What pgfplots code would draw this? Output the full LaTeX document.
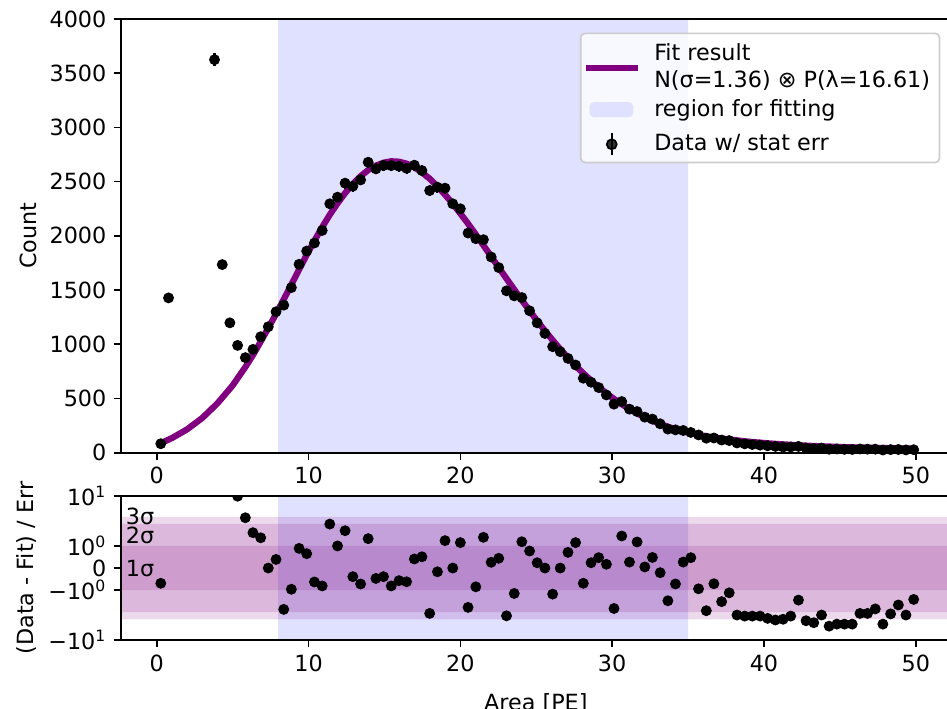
\documentclass[border=0pt]{standalone}
\usepackage{fontspec}
\setmainfont{DejaVu Sans}
\usepackage{pgfplots}
\usepackage{pgfplotstable}
\pgfplotsset{compat=1.18}

\definecolor{fitpurple}{RGB}{128,0,128}
\definecolor{regionblue}{RGB}{224,224,255}

% measured counts per bin
\pgfplotstableread{
x y
0.27 83
0.78 1428
3.81 3625
4.32 1735
4.82 1198
5.33 990
5.84 877
6.34 953
6.85 1070
7.35 1162
7.86 1300
8.37 1361
8.87 1523
9.38 1738
9.88 1860
10.39 1934
10.90 2050
11.40 2296
11.91 2357
12.41 2486
12.92 2458
13.43 2516
13.93 2679
14.44 2618
14.94 2648
15.45 2648
15.96 2642
16.46 2623
16.97 2652
17.47 2602
17.98 2418
18.49 2449
18.99 2440
19.50 2296
20.00 2250
20.51 2026
21.02 1974
21.52 1965
22.03 1805
22.53 1707
23.04 1493
23.55 1447
24.05 1431
24.56 1309
25.06 1198
25.57 1100
26.08 978
26.58 932
27.09 870
27.59 809
28.10 687
28.61 650
29.11 601
29.62 533
30.12 448
30.63 472
31.14 402
31.64 380
32.15 328
32.65 310
33.16 267
33.67 218
34.17 211
34.68 205
35.18 187
35.69 164
36.20 134
36.70 136
37.21 117
37.71 112
38.22 90
38.73 82
39.23 76
39.74 70
40.24 64
40.75 58
41.26 53
41.76 53
42.27 58
42.77 43
43.28 39
43.79 43
44.29 32
44.80 34
45.30 31
45.81 30
46.32 35
46.82 33
47.33 33
47.83 25
48.34 29
48.85 30
49.35 26
49.86 28
}\datatab

% fitted curve
\pgfplotstableread{
x y
0.27 88
1.00 135
2.00 215
3.00 320
4.00 455
5.00 620
5.84 790
6.34 900
6.85 1025
7.35 1150
7.86 1280
8.37 1415
8.87 1550
9.38 1690
9.88 1825
10.39 1955
10.90 2080
11.40 2195
11.91 2300
12.41 2395
12.92 2478
13.43 2550
13.93 2607
14.44 2648
14.94 2675
15.45 2688
15.96 2684
16.46 2666
16.97 2632
17.47 2585
17.98 2527
18.49 2457
18.99 2380
19.50 2296
20.00 2207
20.51 2112
21.02 2013
21.52 1913
22.03 1810
22.53 1708
23.04 1606
23.55 1505
24.05 1406
24.56 1310
25.06 1216
25.57 1125
26.08 1038
26.58 955
27.09 876
27.59 802
28.10 732
28.61 666
29.11 605
29.62 548
30.12 496
30.63 447
31.14 403
31.64 363
32.15 327
32.65 295
33.16 266
33.67 240
34.17 217
34.68 197
35.18 180
35.69 165
36.20 152
36.70 141
37.21 131
37.71 122
38.22 114
38.73 106
39.23 99
39.74 93
40.24 87
41.26 77
42.27 69
43.28 62
44.29 57
45.30 52
46.32 48
47.33 45
48.34 42
49.35 39
49.86 37
}\fittab

% (data - fit) / err
\pgfplotstableread{
x r
0.27 -0.69
5.33 9.9
5.84 2.85
6.34 1.60
6.85 1.37
7.35 0.00
7.86 0.39
8.37 -1.87
8.87 -0.96
9.38 0.89
9.88 0.65
10.39 -0.63
10.90 -0.81
11.40 1.99
11.91 1.00
12.41 1.69
12.92 -0.39
13.43 -0.72
13.93 1.33
14.44 -0.47
14.94 -0.39
15.45 -0.81
15.96 -0.57
16.46 -0.62
16.97 0.41
17.47 0.51
17.98 -2.14
18.49 -0.17
18.99 1.24
19.50 0.00
20.00 1.15
20.51 -1.78
21.02 -0.85
21.52 1.39
22.03 0.26
22.53 0.44
23.04 -2.46
23.55 -1.15
24.05 1.19
24.56 0.77
25.06 0.24
25.57 0.00
26.08 -1.18
26.58 0.00
27.09 0.71
27.59 1.15
28.10 -0.69
28.61 0.24
29.11 0.47
29.62 0.17
30.12 -1.83
30.63 1.45
31.14 0.27
31.64 1.18
32.15 0.05
32.65 0.48
33.16 -0.21
33.67 -1.48
34.17 -0.72
34.68 0.27
35.18 0.47
35.69 -0.94
36.20 -1.93
36.70 -0.71
37.21 -1.52
37.71 -1.12
38.22 -2.35
38.73 -2.50
39.23 -2.50
39.74 -2.50
40.24 -2.85
40.75 -3.13
41.26 -3.00
41.76 -2.50
42.27 -1.45
42.77 -3.27
43.28 -3.67
43.79 -2.35
44.29 -4.47
44.80 -3.98
45.30 -3.98
45.81 -3.98
46.32 -2.14
46.82 -2.14
47.33 -1.85
47.83 -3.98
48.34 -2.20
48.85 -1.67
49.35 -2.35
49.86 -1.42
}\restab

\pgfplotsset{
  panel/.style={
    scale only axis, width=398.3pt,
    xmin=-2.35, xmax=52.3,
    xtick={0,10,20,30,40,50},
    axis line style={line width=0.8pt},
    every tick/.style={black, line width=0.8pt},
    major tick length=3.5pt,
    tick align=outside,
    tick pos=left,
    /pgf/number format/assume math mode=true,
    /pgf/number format/1000 sep={},
    every axis y label/.style={at={(axis description cs:-0.1013,0.5)}, rotate=90, anchor=south, inner sep=0pt},
    axis on top,
  },
}

\begin{document}
\begin{tikzpicture}[font=\fontsize{10.7}{12.8}\selectfont]
\begin{axis}[panel,
  at={(58.09pt,122.57pt)}, anchor=south west, height=208.2pt,
  ymin=0, ymax=4000, ytick={0,500,...,4000},
  ylabel={Count},
  legend cell align=left,
  legend style={at={(1,1)}, anchor=north east, xshift=-5pt, yshift=-6.5pt,
    draw=black!20, line width=0.8pt, fill=white, fill opacity=0.8, text opacity=1,
    rounded corners=2pt, inner xsep=1pt, inner ysep=3pt, row sep=5.1pt,
    nodes={inner xsep=3.5pt, inner ysep=1pt, anchor=west},
    /tikz/every odd column/.append style={column sep=3pt}},
]
\addplot[draw=none, fill=regionblue, forget plot] coordinates {(8,0)(8,4000)(35,4000)(35,0)(8,0)};
\addplot[fitpurple, line width=3pt, no markers,
  legend image code/.code={\draw[fitpurple, line width=3pt] (0pt,-2.4pt) -- (24.8pt,-2.4pt);}]
  table[x=x, y=y] {\fittab};
\addlegendentry{\begin{tabular}{@{}l@{}}Fit result\\N(σ=1.36) ⊗ P(λ=16.61)\rule[-11.2pt]{0pt}{11.2pt}\end{tabular}}
\addlegendimage{legend image code/.code={\path[draw=none, fill=none] (0pt,0pt) -- (24.8pt,0pt); \fill[regionblue, draw=none, fill opacity=1] (1.8pt,-3.6pt) rectangle (22.7pt,3.6pt);}}
\addlegendentry{region for fitting}
\addplot[only marks, mark=*, mark size=2.4pt, black,
  legend image code/.code={\path[draw=none, fill=none] (0pt,0pt) -- (24.8pt,0pt); \draw[black, line width=1pt] (12.4pt,-5.2pt) -- (12.4pt,5.2pt); \fill[black] (12.4pt,0pt) circle (2.4pt);},
  error bars/.cd, y dir=both, y explicit, error mark=none,
  error bar style={line width=1pt, black}]
  table[x=x, y=y, y error expr={sqrt(\thisrow{y})}] {\datatab};
\addlegendentry{Data w/ stat err}
\end{axis}

\begin{axis}[panel,
  at={(58.09pt,32.65pt)}, anchor=south west, height=69.13pt,
  y coord trafo/.code={\pgfmathparse{abs(#1)<=2 ? 1.1111*(#1) : ((#1)<0 ? -1 : 1)*2*(1.1111+0.4342945*ln(max(abs(#1),2)/2))}},
  ymin=-10, ymax=10,
  ytick={-10,-1,0,1,10},
  yticklabels={−10\textsuperscript{1}, −10\textsuperscript{0}, 0, 10\textsuperscript{0}, 10\textsuperscript{1}},
  ylabel={(Data - Fit) / Err},
  xlabel={Area [PE]},
  every axis x label/.style={at={(axis description cs:0.5,-0.49)}, anchor=base, inner sep=0pt},
  clip marker paths=true,
]
\addplot[draw=none, fill=regionblue] coordinates {(8,-10)(8,10)(35,10)(35,-10)(8,-10)};
\addplot[draw=none, fill=fitpurple, fill opacity=0.15] coordinates {(-5,-3)(-5,3)(60,3)(60,-3)(-5,-3)};
\addplot[draw=none, fill=fitpurple, fill opacity=0.15] coordinates {(-5,-2)(-5,2)(60,2)(60,-2)(-5,-2)};
\addplot[draw=none, fill=fitpurple, fill opacity=0.15] coordinates {(-5,-1)(-5,1)(60,1)(60,-1)(-5,-1)};
\addplot[only marks, mark=*, mark size=2.4pt, black] table[x=x, y=r] {\restab};
\node[anchor=west, inner sep=0pt] at (axis cs:-2.05,3) {3σ};
\node[anchor=west, inner sep=0pt] at (axis cs:-2.05,1.49) {2σ};
\node[anchor=west, inner sep=0pt] at (axis cs:-2.05,0) {1σ};
\end{axis}

\pgfresetboundingbox
\path[use as bounding box] (0pt,0pt) rectangle (454.6pt,339.9pt);
\end{tikzpicture}
\end{document}
